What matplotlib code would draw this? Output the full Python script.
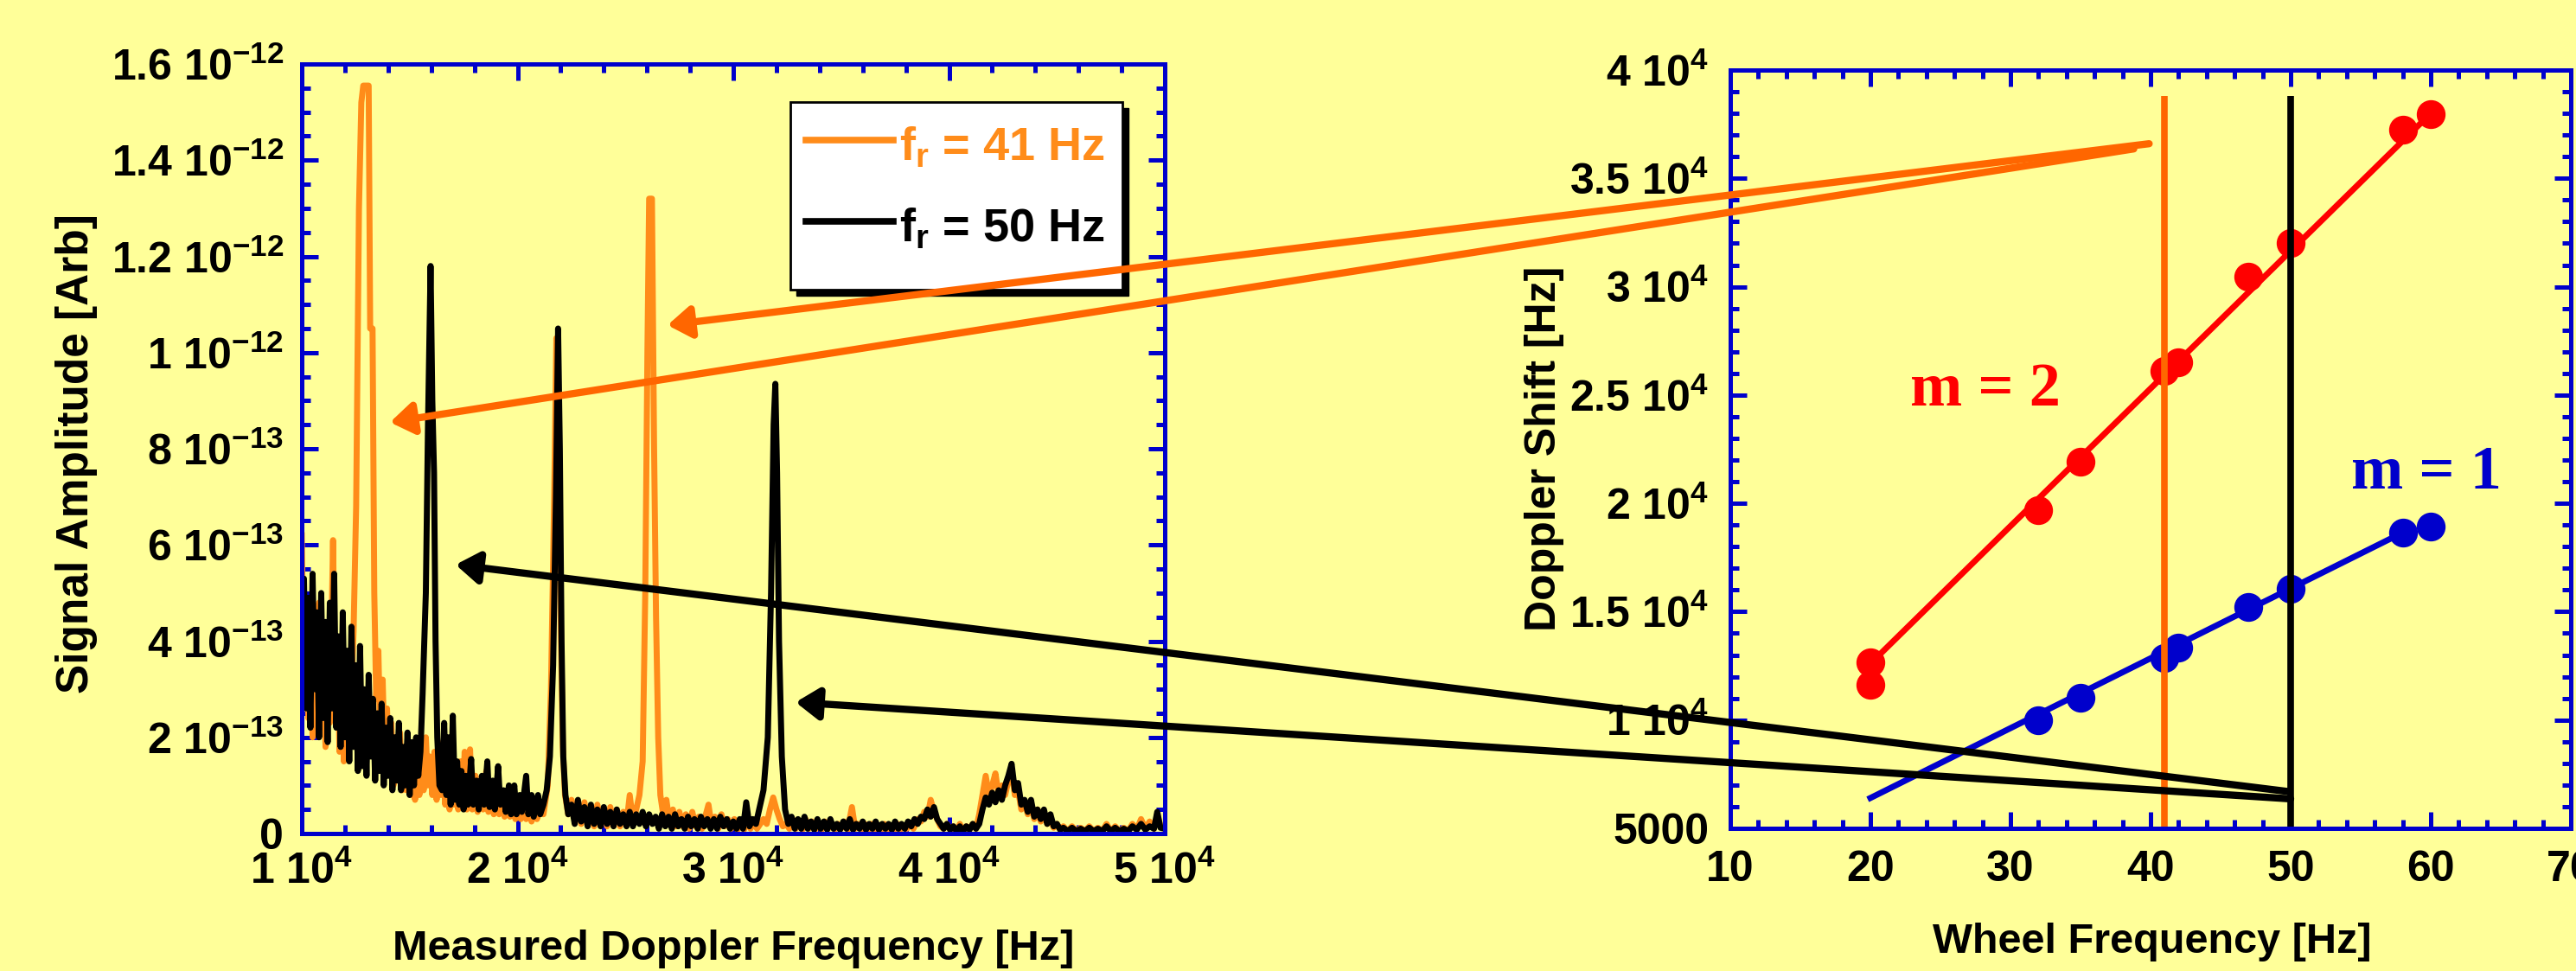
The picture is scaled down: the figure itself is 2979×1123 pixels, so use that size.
import numpy as np
import matplotlib
matplotlib.use("Agg")
import matplotlib.pyplot as plt
from matplotlib.patches import Rectangle, ConnectionPatch
from matplotlib.lines import Line2D
from matplotlib.ticker import MultipleLocator

# ---- data -------------------------------------------------------------
# spectrum amplitudes in units of 1e-13 (arb), frequency in Hz
orange_pts = [
    (10000, 6.2), (10100, 3.0), (10200, 4.8), (10300, 2.4), (10400, 4.4), (10500, 2.0),
    (10600, 4.2), (10700, 2.6), (10800, 4.8), (10900, 2.2), (11000, 3.9), (11100, 1.8),
    (11200, 4.0), (11300, 2.3), (11450, 6.1), (11550, 2.4), (11650, 3.8), (11750, 1.7),
    (11850, 3.4), (11950, 1.5), (12050, 3.0), (12150, 1.6), (12250, 2.8), (12300, 3.0),
    (12400, 4.2), (12520, 6.8), (12650, 13.0), (12760, 15.2), (12850, 15.55), (13100, 15.55),
    (13170, 10.5), (13280, 10.5), (13360, 5.0), (13450, 2.8), (13550, 3.8), (13650, 1.6),
    (13750, 3.2), (13850, 1.3), (13950, 2.6), (14050, 1.4), (14150, 2.3), (14250, 1.0),
    (14350, 2.0), (14450, 1.1), (14550, 2.1), (14650, 0.9), (14750, 1.7), (14850, 0.9),
    (14950, 1.6), (15050, 0.8), (15150, 1.5), (15250, 0.7), (15350, 1.6), (15450, 0.8),
    (15550, 1.4), (15650, 0.9), (15750, 2.0), (15850, 1.0), (15950, 1.6), (16050, 0.8),
    (16150, 1.7), (16250, 0.7), (16350, 1.5), (16450, 0.8), (16550, 1.9), (16650, 0.6),
    (16750, 1.4), (16850, 0.5), (16950, 1.6), (17050, 0.6), (17150, 1.3), (17250, 0.5),
    (17350, 1.5), (17450, 0.6), (17550, 1.7), (17650, 0.5), (17800, 1.75), (17900, 0.5),
    (18050, 1.2), (18150, 0.45), (18300, 1.1), (18400, 0.5), (18550, 1.3), (18650, 0.45),
    (18800, 1.0), (18900, 0.4), (19050, 0.9), (19150, 0.4), (19300, 0.8), (19400, 0.35),
    (19550, 0.8), (19650, 0.35), (19800, 0.7), (19900, 0.3), (20050, 0.75), (20150, 0.3),
    (20300, 0.6), (20400, 0.3), (20550, 0.65), (20650, 0.25), (20800, 0.6), (20900, 0.3),
    (21050, 0.55), (21200, 0.4), (21400, 1.0), (21550, 3.0), (21700, 7.0), (21800, 10.3),
    (21900, 8.0), (22000, 4.5), (22100, 1.8), (22200, 0.8), (22350, 0.4), (22500, 0.7),
    (22650, 0.3), (22800, 0.6), (22950, 0.2), (23100, 0.65), (23250, 0.2), (23400, 0.5),
    (23550, 0.15), (23700, 0.6), (23850, 0.2), (24000, 0.5), (24150, 0.15), (24300, 0.55),
    (24450, 0.2), (24600, 0.5), (24750, 0.15), (24900, 0.45), (25050, 0.2), (25200, 0.8),
    (25350, 0.25), (25500, 0.5), (25650, 0.8), (25800, 1.5), (25920, 5.0), (26020, 10.0),
    (26100, 13.2), (26230, 13.2), (26330, 8.0), (26420, 4.5), (26520, 2.0), (26620, 0.8),
    (26750, 0.4), (26900, 0.7), (27050, 0.2), (27200, 0.5), (27350, 0.15), (27500, 0.45),
    (27650, 0.15), (27800, 0.4), (27950, 0.1), (28100, 0.45), (28250, 0.15), (28400, 0.35),
    (28550, 0.1), (28850, 0.6), (29000, 0.15), (29150, 0.35), (29300, 0.1), (29450, 0.4),
    (29600, 0.15), (29750, 0.3), (29900, 0.1), (30050, 0.3), (30200, 0.08), (30350, 0.25),
    (30500, 0.08), (30650, 0.3), (30800, 0.1), (30950, 0.25), (31100, 0.1), (31250, 0.2),
    (31400, 0.3), (31550, 0.2), (31700, 0.5), (31850, 0.75), (32000, 0.5), (32150, 0.3),
    (32300, 0.15), (32450, 0.2), (32600, 0.1), (32750, 0.3), (32900, 0.1), (33050, 0.25),
    (33200, 0.08), (33350, 0.3), (33500, 0.1), (33650, 0.25), (33800, 0.08), (33950, 0.2),
    (34100, 0.08), (34250, 0.25), (34400, 0.1), (34550, 0.2), (34700, 0.08), (34850, 0.2),
    (35000, 0.1), (35150, 0.25), (35300, 0.08), (35500, 0.55), (35650, 0.1), (35800, 0.2),
    (35950, 0.08), (36100, 0.2), (36250, 0.05), (36400, 0.2), (36550, 0.08), (36700, 0.15),
    (36850, 0.05), (37000, 0.2), (37150, 0.08), (37300, 0.15), (37450, 0.05), (37600, 0.2),
    (37750, 0.08), (37900, 0.15), (38050, 0.1), (38200, 0.2), (38350, 0.1), (38550, 0.3),
    (38700, 0.25), (38850, 0.45), (39000, 0.35), (39150, 0.7), (39300, 0.45), (39450, 0.3),
    (39600, 0.15), (39750, 0.1), (39900, 0.2), (40050, 0.08), (40200, 0.15), (40350, 0.05),
    (40500, 0.2), (40650, 0.05), (40800, 0.15), (40950, 0.08), (41100, 0.2), (41250, 0.1),
    (41400, 0.4), (41550, 0.8), (41700, 1.2), (41850, 0.8), (42000, 1.0), (42150, 1.25),
    (42300, 0.8), (42450, 1.0), (42600, 0.8), (42750, 1.1), (42900, 1.3), (43050, 0.8),
    (43200, 0.9), (43350, 0.5), (43500, 0.65), (43650, 0.4), (43800, 0.65), (43950, 0.3),
    (44100, 0.5), (44250, 0.25), (44400, 0.45), (44550, 0.2), (44700, 0.3), (44850, 0.12),
    (45000, 0.2), (45150, 0.08), (45300, 0.15), (45500, 0.05), (45700, 0.15), (45900, 0.05),
    (46100, 0.12), (46300, 0.05), (46500, 0.15), (46700, 0.05), (46900, 0.12), (47100, 0.05),
    (47300, 0.2), (47500, 0.05), (47700, 0.15), (47900, 0.05), (48100, 0.12), (48300, 0.05),
    (48500, 0.2), (48700, 0.08), (48900, 0.3), (49100, 0.1), (49300, 0.25), (49500, 0.1),
    (49650, 0.4), (49800, 0.15), (50000, 0.1),
]

black_pts = [
    (10000, 3.8), (10100, 5.3), (10200, 2.6), (10300, 4.9), (10400, 2.2), (10500, 5.4),
    (10600, 3.0), (10700, 4.6), (10800, 2.0), (10900, 5.0), (11000, 2.4), (11100, 4.4),
    (11200, 1.9), (11300, 4.8), (11400, 2.6), (11500, 5.4), (11600, 2.2), (11700, 4.1),
    (11800, 1.8), (11900, 4.6), (12000, 2.0), (12100, 3.8), (12200, 1.5), (12300, 4.3),
    (12400, 1.8), (12500, 3.5), (12600, 1.3), (12700, 3.9), (12800, 1.4), (12900, 3.0),
    (13000, 1.2), (13100, 3.3), (13200, 1.6), (13300, 2.8), (13400, 1.1), (13500, 2.5),
    (13600, 1.3), (13700, 2.7), (13800, 1.0), (13900, 2.2), (14000, 1.2), (14100, 2.4),
    (14200, 0.9), (14300, 2.0), (14400, 1.1), (14500, 2.3), (14600, 0.9), (14700, 1.8),
    (14800, 1.0), (14900, 2.1), (15000, 0.8), (15100, 1.9), (15200, 1.0), (15300, 2.0),
    (15400, 1.2), (15500, 1.7), (15600, 2.9), (15750, 5.0), (15850, 8.5), (15970, 11.8),
    (16050, 9.0), (16130, 7.5), (16200, 4.0), (16280, 2.0), (16380, 1.0), (16500, 0.9),
    (16600, 2.3), (16700, 0.8), (16800, 2.0), (16900, 0.6), (17000, 2.45), (17100, 0.7),
    (17200, 1.5), (17300, 0.6), (17400, 1.3), (17500, 0.5), (17600, 1.2), (17700, 0.6),
    (17850, 1.55), (17950, 0.6), (18100, 1.1), (18200, 0.5), (18350, 1.2), (18450, 0.6),
    (18600, 1.5), (18700, 0.55), (18850, 1.1), (18950, 0.5), (19100, 1.4), (19200, 0.6),
    (19350, 0.9), (19450, 0.45), (19600, 1.0), (19700, 0.4), (19850, 1.0), (19950, 0.4),
    (20100, 0.8), (20200, 0.45), (20400, 1.2), (20500, 0.4), (20650, 0.8), (20750, 0.35),
    (20950, 0.8), (21050, 0.4), (21200, 0.6), (21350, 0.9), (21500, 1.6), (21650, 3.5),
    (21780, 7.0), (21880, 10.5), (21960, 8.0), (22040, 4.0), (22120, 1.6), (22220, 0.8),
    (22350, 0.4), (22500, 0.6), (22650, 0.2), (22800, 0.7), (22950, 0.25), (23100, 0.55),
    (23250, 0.15), (23400, 0.6), (23550, 0.2), (23700, 0.5), (23850, 0.15), (24000, 0.55),
    (24150, 0.2), (24300, 0.45), (24450, 0.15), (24600, 0.5), (24750, 0.2), (24900, 0.4),
    (25050, 0.15), (25200, 0.45), (25350, 0.15), (25500, 0.4), (25650, 0.2), (25800, 0.45),
    (25950, 0.15), (26100, 0.4), (26250, 0.2), (26400, 0.35), (26550, 0.1), (26700, 0.4),
    (26850, 0.15), (27000, 0.35), (27150, 0.1), (27300, 0.4), (27450, 0.15), (27600, 0.3),
    (27750, 0.1), (27900, 0.35), (28050, 0.15), (28200, 0.3), (28350, 0.1), (28500, 0.35),
    (28650, 0.15), (28800, 0.3), (28950, 0.1), (29100, 0.3), (29250, 0.1), (29400, 0.35),
    (29550, 0.15), (29700, 0.3), (29850, 0.1), (30000, 0.25), (30150, 0.1), (30300, 0.3),
    (30450, 0.1), (30600, 0.65), (30750, 0.15), (30900, 0.3), (31050, 0.2), (31200, 0.5),
    (31400, 0.9), (31600, 2.0), (31750, 5.0), (31870, 8.5), (31950, 9.35), (32030, 7.5),
    (32120, 4.0), (32250, 1.6), (32400, 0.5), (32550, 0.2), (32700, 0.35), (32850, 0.1),
    (33000, 0.3), (33150, 0.1), (33300, 0.35), (33450, 0.1), (33600, 0.25), (33750, 0.08),
    (33900, 0.3), (34050, 0.1), (34200, 0.25), (34350, 0.08), (34500, 0.3), (34650, 0.1),
    (34800, 0.2), (34950, 0.08), (35100, 0.25), (35250, 0.1), (35400, 0.3), (35550, 0.08),
    (35700, 0.2), (35850, 0.1), (36000, 0.25), (36150, 0.08), (36300, 0.2), (36450, 0.1),
    (36600, 0.25), (36750, 0.08), (36900, 0.2), (37050, 0.1), (37200, 0.2), (37350, 0.08),
    (37500, 0.25), (37650, 0.1), (37800, 0.2), (37950, 0.1), (38100, 0.25), (38250, 0.15),
    (38400, 0.3), (38550, 0.2), (38700, 0.35), (38850, 0.3), (39000, 0.5), (39150, 0.35),
    (39300, 0.55), (39450, 0.3), (39600, 0.2), (39750, 0.1), (39900, 0.2), (40050, 0.08),
    (40200, 0.15), (40350, 0.05), (40500, 0.15), (40650, 0.05), (40800, 0.15), (40950, 0.08),
    (41100, 0.2), (41250, 0.1), (41400, 0.2), (41550, 0.5), (41700, 0.75), (41850, 0.6),
    (42000, 0.85), (42150, 0.65), (42300, 0.9), (42450, 0.7), (42600, 1.0), (42750, 1.2),
    (42900, 1.45), (43050, 0.9), (43200, 1.05), (43350, 0.6), (43500, 0.7), (43650, 0.45),
    (43800, 0.7), (43950, 0.35), (44100, 0.5), (44250, 0.3), (44400, 0.5), (44550, 0.2),
    (44700, 0.4), (44850, 0.15), (45000, 0.2), (45150, 0.08), (45300, 0.12), (45500, 0.05),
    (45700, 0.12), (45900, 0.05), (46100, 0.1), (46300, 0.05), (46500, 0.12), (46700, 0.05),
    (46900, 0.1), (47100, 0.05), (47300, 0.15), (47500, 0.05), (47700, 0.12), (47900, 0.05),
    (48100, 0.1), (48300, 0.05), (48500, 0.15), (48700, 0.08), (48900, 0.2), (49100, 0.08),
    (49300, 0.15), (49500, 0.1), (49650, 0.45), (49800, 0.12), (50000, 0.1),
]

# wheel frequency (Hz) vs doppler shift (Hz)
m2_freq = [20, 20, 32, 35, 41, 42, 47, 50, 58, 60]
m2_shift = [12660, 11640, 19700, 21930, 26130, 26510, 30450, 32000, 37230, 37950]
m1_freq = [32, 35, 41, 42, 47, 50, 58, 60]
m1_shift = [9990, 11010, 12870, 13360, 15220, 16070, 18630, 18930]
m2_fit_freq, m2_fit_shift = [20, 60], [12600, 38000]
m1_fit_freq, m1_fit_shift = [20, 58], [6400, 18650]
wheel_lines = [41, 50]
wheel_line_top = 38800

# arrows: tail on the right panel (wheel Hz, shift Hz) -> tip on the left panel (Hz, 1e-13)
arrow_tails = [(39.9, 36600), (38.8, 36360), (49.8, 6700), (50.0, 6360)]
arrow_tips = [(26950, 10.57), (14090, 8.55), (17130, 5.59), (32890, 2.73)]

left_xticks = [10000, 20000, 30000, 40000, 50000]
left_xlabels = ['1 10$^{4}$', '2 10$^{4}$', '3 10$^{4}$', '4 10$^{4}$', '5 10$^{4}$']
left_yticks = [0, 2, 4, 6, 8, 10, 12, 14, 16]
left_ylabels = ['0', '2 10$^{-13}$', '4 10$^{-13}$', '6 10$^{-13}$', '8 10$^{-13}$',
                '1 10$^{-12}$', '1.2 10$^{-12}$', '1.4 10$^{-12}$', '1.6 10$^{-12}$']
right_xticks = [10, 20, 30, 40, 50, 60, 70]
right_yticks = [5000, 10000, 15000, 20000, 25000, 30000, 35000, 40000]
right_ylabels = ['5000', '1 10$^{4}$', '1.5 10$^{4}$', '2 10$^{4}$', '2.5 10$^{4}$',
                 '3 10$^{4}$', '3.5 10$^{4}$', '4 10$^{4}$']

# ---- style ------------------------------------------------------------
BG = '#FFFF99'
AXBLUE = '#0000CC'
ORANGE = '#FF8C1A'
ARROW_OR = '#FF6600'

plt.rcParams['font.family'] = 'Liberation Sans'
plt.rcParams['font.weight'] = 'bold'
plt.rcParams['mathtext.fontset'] = 'custom'
plt.rcParams['mathtext.rm'] = 'Liberation Sans:bold'
plt.rcParams['mathtext.it'] = 'Liberation Sans:bold'
plt.rcParams['mathtext.bf'] = 'Liberation Sans:bold'
plt.rcParams['mathtext.default'] = 'rm'

W, H = 2979, 1123
fig = plt.figure(figsize=(W / 100, H / 100), dpi=100, facecolor=BG)


def px_rect(x0, y0, x1, y1):
    return [x0 / W, 1 - y1 / H, (x1 - x0) / W, (y1 - y0) / H]


def style_axes(ax, xpad, ypad):
    ax.set_facecolor(BG)
    for s in ax.spines.values():
        s.set_color(AXBLUE)
        s.set_linewidth(3.6)
    ax.tick_params(which='both', direction='in', top=True, right=True,
                   color=AXBLUE, width=3.6, labelsize=36)
    ax.tick_params(which='major', length=13.5)
    ax.tick_params(which='minor', length=7)
    ax.tick_params(axis='x', pad=xpad)
    ax.tick_params(axis='y', pad=ypad)


ax1 = fig.add_axes(px_rect(349, 74, 1347, 964))
ax2 = fig.add_axes(px_rect(2001, 81, 2973, 958))
style_axes(ax1, 15, 15)
style_axes(ax2, 18, 18)

# --- left panel: spectra
of, oa = np.array(orange_pts).T
bf, ba = np.array(black_pts).T
ax1.plot(of, oa, color=ORANGE, lw=5)
ax1.plot(bf, ba, color='black', lw=5)
ax1.set_xlim(10000, 50000)
ax1.set_ylim(0, 16)
ax1.set_xticks(left_xticks, left_xlabels)
ax1.set_yticks(left_yticks, left_ylabels)
ax1.xaxis.set_minor_locator(MultipleLocator(2000))
ax1.yaxis.set_minor_locator(MultipleLocator(0.5))

# --- right panel: doppler shift vs wheel frequency
ax2.plot(m2_fit_freq, m2_fit_shift, color='#FF0000', lw=5)
ax2.plot(m1_fit_freq, m1_fit_shift, color='#0000CC', lw=5)
ax2.plot(m2_freq, m2_shift, 'o', color='#FF0000', ms=23)
ax2.plot(m1_freq, m1_shift, 'o', color='#0000CC', ms=23)
for wf, col in zip(wheel_lines, [ARROW_OR, 'black']):
    ax2.plot([wf, wf], [5000, wheel_line_top], color=col, lw=5.5, solid_capstyle='butt')
ax2.set_xlim(10, 70)
ax2.set_ylim(5000, 40000)
ax2.set_xticks(right_xticks, [str(t) for t in right_xticks])
ax2.set_yticks(right_yticks, right_ylabels)
ax2.xaxis.set_minor_locator(MultipleLocator(2))
ax2.yaxis.set_minor_locator(MultipleLocator(1000))
ax2.text(28.2, 24500, 'm = 2', color='#FF0000', family='Liberation Serif',
         weight='bold', fontsize=52, ha='center', va='baseline')
ax2.text(59.7, 20680, 'm = 1', color='#0000CC', family='Liberation Serif',
         weight='bold', fontsize=52, ha='center', va='baseline')

# axis labels
fig.text(89 / W, 1 - 525 / H, 'Signal Amplitude [Arb]', rotation=90,
         ha='center', va='center', fontsize=37)
fig.text(848 / W, 1 - 1110 / H, 'Measured Doppler Frequency [Hz]',
         ha='center', va='baseline', fontsize=35)
fig.text(1786 / W, 1 - 519 / H, 'Doppler Shift [Hz]', rotation=90,
         ha='center', va='center', fontsize=36)
fig.text(2489 / W, 1 - 1102 / H, 'Wheel Frequency [Hz]',
         ha='center', va='baseline', fontsize=35)

# legend box with black drop shadow
lx0, ly0, lx1, ly1 = 914, 118, 1298, 335
fig.add_artist(Rectangle((lx0 / W + 7 / W, 1 - (ly1 + 7) / H), (lx1 - lx0) / W, (ly1 - ly0) / H,
                         transform=fig.transFigure, facecolor='black', edgecolor='black', zorder=1))
fig.add_artist(Rectangle((lx0 / W, 1 - ly1 / H), (lx1 - lx0) / W, (ly1 - ly0) / H,
                         transform=fig.transFigure, facecolor='white', edgecolor='black',
                         lw=2, zorder=1.1))
for ly, col, lab in [(162, ORANGE, '41'), (256, 'black', '50')]:
    fig.add_artist(Line2D([932 / W, 1033 / W], [1 - ly / H, 1 - ly / H], transform=fig.transFigure,
                          color=col, lw=5.5, zorder=1.2))
    fig.text(1040 / W, 1 - (ly + 24) / H, 'f$_{r}$ = ' + lab + ' Hz', color=col,
             fontsize=39, ha='left', va='baseline', zorder=1.2)

# arrows from the wheel-frequency lines to the spectral peaks
arrow_cols = [ARROW_OR, ARROW_OR, 'black', 'black']
for tail, tip, col in zip(arrow_tails, arrow_tips, arrow_cols):
    con = ConnectionPatch(xyA=tail, coordsA=ax2.transData, xyB=tip, coordsB=ax1.transData,
                          arrowstyle='-|>,head_length=0.8,head_width=0.55', mutation_scale=20,
                          lw=6, color=col, zorder=2)
    fig.add_artist(con)

fig.savefig('out.png', dpi=100, facecolor=BG)
